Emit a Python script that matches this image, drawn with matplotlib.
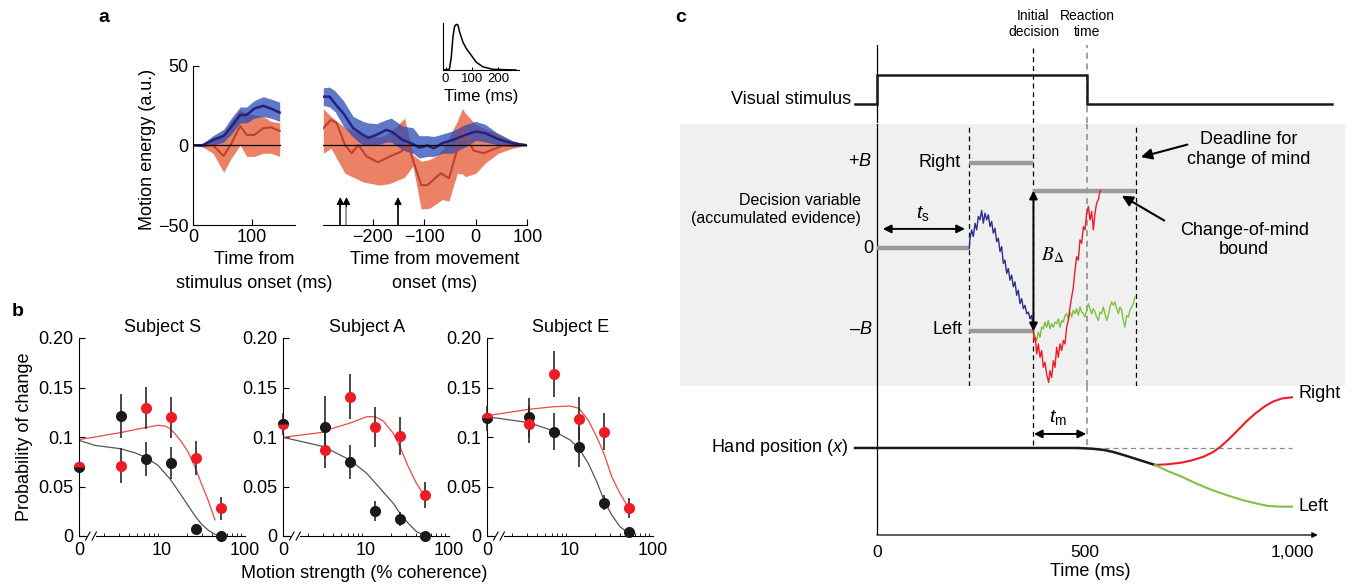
import matplotlib
matplotlib.use('Agg')
import matplotlib.pyplot as plt

plt.rcParams['font.family'] = ['Liberation Sans', 'DejaVu Sans']
plt.rcParams['mathtext.fontset'] = 'custom'
plt.rcParams['mathtext.rm'] = 'Liberation Sans'
plt.rcParams['mathtext.it'] = 'Liberation Sans:italic'
plt.rcParams['mathtext.default'] = 'it'

# ---------------- Panel a data ----------------
t_left = [0, 16, 34, 52, 65, 80, 91, 104, 119, 132, 147]
blue_left = [0, 0, 3.3, 5.9, 11.7, 19, 19, 23, 24.7, 23, 20.5]
blue_left_hi = [0, 1, 6, 10, 17, 24, 24, 28, 30.5, 29, 27]
blue_left_lo = [0, -1, 0, 2, 7, 14, 14, 17, 18, 17, 15]
red_left = [0, 0, 0, -6.7, 1.2, 12, 6.5, 6.5, 10.7, 11.3, 9]
red_left_hi = [0, 0, 5, 7, 15, 22, 20, 19, 18, 15, 14]
red_left_lo = [0, -1, -5, -17, -8, 0, -7, -7, -5, -5, -7]

t_blue_right = [-296, -284, -273, -257, -238, -219, -209, -193, -174, -164, -142, -122,
                -110, -94, -81, -65, -45, -20, 0, 19, 44, 70, 100]
blue_right = [30.5, 30.5, 26, 20, 10.7, 6.5, 4.6, 6.5, 9.6, 8.6, 3.3, 0.8,
              -1.5, -0.2, -1.9, 1.3, 3.3, 6.5, 8.6, 7.5, 3.8, 1.3, 0]
blue_right_hi = [36, 36.5, 34, 28, 18, 15, 14, 13.5, 16, 17, 12, 11,
                 6, 6, 5.5, 7, 9, 13, 15, 13, 7, 3, 0]
blue_right_lo = [25, 24, 21, 12, 5, 0, 0, 0, 2, 2, -3, -5,
                 -8, -7, -7, -5, -5, -1, 3, 2, 0, -1, 0]

t_red_right = [-296, -281, -270, -254, -241, -228, -212, -190, -167, -145, -132, -106,
               -94, -68, -52, -26, -4, 15, 54, 100]
red_right = [10.7, 16, 14, 0.2, -5, 0.2, -7, -10.7, -7, -4, 0.8, -25,
             -25, -17.6, -20.7, 8.6, -3.3, -5, 0, 0]
t_red_band = [-296, -281, -254, -219, -187, -167, -138, -122, -106, -90, -78, -65,
              -52, -36, -26, -20, 0, 19, 44, 70, 100]
red_right_hi = [23, 18, 11, 7, 5, 8, 17, -6, -10, -9, -7, -3,
                5, 15, 23, 20, 13, 10, 7.5, 3, 0]
red_right_lo = [-5, -2, -17.6, -23, -25, -24, -20, -13, -40, -39.5, -37, -34,
                -35, -17.6, -18, -19.7, -17.6, -11, -5, -2, 0]
arrow_times = [-263, -251, -151]

inset_t = [-10, 10, 15, 21.5, 28, 34, 40.6, 46.8, 53, 66, 79, 98, 117, 142, 180, 268]
inset_v = [0, 0.01, 0.03, 0.28, 0.73, 0.95, 1.0, 0.99, 0.84, 0.61, 0.47, 0.32, 0.17, 0.07, 0.015, 0]

# ---------------- Panel b data ----------------
coherence = [0, 3.2, 6.4, 12.8, 25.6, 51.2]
subjects = ['Subject S', 'Subject A', 'Subject E']
black_vals = [[0.0695, 0.121, 0.078, 0.0736, 0.0075, 0.0],
              [0.113, 0.110, 0.0747, 0.0256, 0.0168, 0.0],
              [0.1189, 0.120, 0.1054, 0.090, 0.0337, 0.0037]]
black_err = [[0, 0.022, 0.017, 0.016, 0.005, 0],
             [0.011, 0.0315, 0.0175, 0.010, 0.007, 0],
             [0.0125, 0.0197, 0.019, 0.020, 0.0075, 0]]
red_vals = [[0.0695, 0.0712, 0.1295, 0.1197, 0.0786, 0.0278],
            [0.113, 0.087, 0.1407, 0.110, 0.101, 0.0417],
            [0.119, 0.1128, 0.1636, 0.1185, 0.1054, 0.028]]
red_err = [[0, 0.0175, 0.021, 0.0205, 0.017, 0.0114],
           [0, 0.018, 0.023, 0.0205, 0.0195, 0.013],
           [0, 0.0185, 0.023, 0.022, 0.019, 0.010]]
zero_top = ['red', 'black', 'red']

fit_red_coh = [[0, 1.56, 2.25, 3.18, 4.73, 6.35, 9.0, 10.9, 12.5, 14.3, 17.2, 20.7, 25, 30, 36.1, 43.5],
               [0, 3.2, 3.7, 6.4, 10.2, 12.8, 16, 21.3, 25.7, 32.3, 40.7, 51.2],
               [0, 3.2, 6.4, 10, 12.8, 16.6, 21, 25.6, 31.8, 40, 51.2]]
fit_red = [[0.0973, 0.100, 0.1024, 0.1044, 0.1075, 0.1095, 0.1119, 0.111, 0.1085, 0.1034, 0.095, 0.0847,
            0.0695, 0.0525, 0.0356, 0.0163],
           [0.0997, 0.105, 0.108, 0.114, 0.1205, 0.1205, 0.1165, 0.1037, 0.090, 0.070, 0.053, 0.0397],
           [0.1215, 0.128, 0.1306, 0.1313, 0.129, 0.117, 0.100, 0.0835, 0.060, 0.043, 0.028]]
fit_black_coh = [[0, 1.56, 2.25, 3.18, 4.73, 6.35, 9.0, 12.5, 17.2, 20.7, 25, 30, 36.1, 43.5, 50],
                 [0, 3.2, 3.7, 6.4, 10.2, 16, 21.3, 25.7, 32.3, 40.7, 51.2],
                 [0, 3.2, 6.4, 10, 12.8, 16.6, 21, 25.6, 31.8, 40, 51.2]]
fit_black = [[0.0966, 0.0915, 0.0898, 0.0881, 0.084, 0.0797, 0.0712, 0.0576, 0.0407, 0.0305, 0.0203,
              0.0119, 0.0058, 0.0017, 0.0],
             [0.0997, 0.090, 0.0869, 0.0768, 0.0633, 0.0448, 0.033, 0.0229, 0.0128, 0.0043, 0.0007],
             [0.1205, 0.1145, 0.106, 0.097, 0.0886, 0.0734, 0.0549, 0.0364, 0.0212, 0.0094, 0.0027]]

# ---------------- Panel c data ----------------
t_s = 222
t_init = 377
t_rt = 506
t_deadline = 624
B_delta_level = 0.695
stim_t = [-53, 0, 0, 506, 506, 1096]
stim_v = [0, 0, 1, 1, 0, 0]

blue_t = [222.5, 224.1, 228.1, 232.1, 236.2, 240.2, 244.2, 248.2, 252.2, 256.2, 260.2, 264.3, 268.3,
          272.3, 276.3, 280.3, 284.3, 288.4, 292.4, 296.4, 300.4, 304.4, 308.4, 312.5, 316.5, 320.5,
          324.5, 328.5, 332.5, 336.6, 340.6, 344.6, 348.6, 352.6, 356.6, 360.7, 364.7, 368.7, 372.7, 377]
blue_dv = [0.0, 0.121, 0.222, 0.141, 0.303, 0.222, 0.384, 0.343, 0.456, 0.303, 0.424, 0.343, 0.404,
           0.262, 0.323, 0.182, 0.242, 0.081, 0.121, -0.040, 0.020, -0.182, -0.142, -0.303, -0.243, -0.384,
           -0.323, -0.465, -0.404, -0.566, -0.505, -0.667, -0.606, -0.727, -0.687, -0.788, -0.768, -0.849,
           -0.808, -1.0]
red_t = [377, 378.3, 381.5, 384.7, 388.8, 392.8, 396.8, 400.8, 404.8, 408.8, 413.6, 416.9, 420.9, 424.9,
         428.9, 432.9, 436.9, 441.0, 445.0, 449.0, 453.0, 457.0, 461.0, 465.1, 469.1, 473.1, 477.1, 481.1,
         485.1, 489.2, 493.2, 497.2, 501.2, 505.2, 509.2, 513.3, 517.3, 521.3, 525.3, 529.3, 533.3, 537.3, 539.0]
red_dv = [-1.0, -1.111, -1.071, -1.273, -1.152, -1.313, -1.232, -1.434, -1.374, -1.515, -1.616, -1.475,
          -1.556, -1.354, -1.434, -1.192, -1.313, -1.152, -1.232, -1.111, -1.152, -0.950, -0.869, -0.707,
          -0.586, -0.465, -0.263, -0.101, -0.142, 0.101, 0.061, 0.262, 0.222, 0.424, 0.505, 0.343, 0.444,
          0.222, 0.424, 0.545, 0.586, 0.687, 0.695]
green_t = [377, 380.7, 384.7, 388.8, 392.8, 396.8, 400.8, 404.8, 408.8, 412.8, 416.9, 420.9, 424.9, 428.9,
           432.9, 436.9, 441.0, 445.0, 449.0, 453.0, 457.0, 461.0, 465.1, 469.1, 473.1, 477.1, 481.1, 485.1,
           489.2, 493.2, 497.2, 501.2, 505.2, 509.2, 513.3, 517.3, 521.3, 525.3, 529.3, 533.3, 537.3, 541.3,
           545.4, 549.4, 553.4, 557.4, 561.4, 565.4, 569.5, 573.5, 577.5, 581.5, 585.5, 589.5, 593.6, 597.6,
           601.6, 605.6, 609.6, 613.6, 617.7, 621.7]
green_dv = [-1.0, -1.071, -1.111, -1.010, -1.071, -0.949, -0.970, -0.889, -0.950, -0.869, -0.970, -0.909,
            -0.950, -0.889, -0.909, -0.849, -0.950, -0.869, -0.889, -0.808, -0.788, -0.849, -0.768, -0.828,
            -0.747, -0.788, -0.727, -0.808, -0.707, -0.768, -0.788, -0.828, -0.747, -0.667, -0.727, -0.788,
            -0.727, -0.768, -0.828, -0.869, -0.768, -0.788, -0.707, -0.788, -0.869, -0.808, -0.707, -0.646,
            -0.687, -0.646, -0.727, -0.788, -0.707, -0.747, -0.869, -0.950, -0.808, -0.828, -0.747, -0.707,
            -0.667, -0.586]

hand_t = [-53, 484, 520, 547, 570, 599, 630, 670]
hand_x = [0, 0, -0.015, -0.039, -0.08, -0.15, -0.23, -0.333]
hand_right_t = [670, 700, 734, 760, 787, 810, 828, 850, 870, 890, 912, 935, 954, 975, 1000]
hand_right_x = [-0.333, -0.32, -0.287, -0.24, -0.17, -0.08, 0.026, 0.19, 0.353, 0.52, 0.68, 0.82, 0.908, 0.97, 0.993]
hand_left_t = [670, 700, 734, 770, 807, 845, 880, 910, 943, 970, 1000]
hand_left_x = [-0.333, -0.45, -0.562, -0.70, -0.824, -0.93, -1.02, -1.08, -1.137, -1.15, -1.15]
time_ticks = [0, 500, 1000]
time_labels = ['0', '500', '1,000']

# ---------------- Figure ----------------
W, H = 1355, 585
fig = plt.figure(figsize=(W / 100, H / 100), dpi=100)


def rect(x0, y0, x1, y1):
    return [x0 / W, 1 - y1 / H, (x1 - x0) / W, (y1 - y0) / H]


def ftext(px, py, s, **kw):
    kw.setdefault('ha', 'center')
    kw.setdefault('va', 'center')
    fig.text(px / W, 1 - py / H, s, **kw)


FS = 13
RED_BAND = '#eb8266'
RED_LINE = '#bc4230'
BLUE_BAND = (0.165, 0.294, 0.713)
BLUE_ALPHA = 0.75
BLUE_LINE = '#23237f'

# ---- panel a left
axL = fig.add_axes(rect(193, 65.5, 295, 225))
axL.fill_between(t_left, red_left_lo, red_left_hi, color=RED_BAND, lw=0)
axL.plot(t_left, red_left, color=RED_LINE, lw=1.5)
axL.fill_between(t_left, blue_left_lo, blue_left_hi, color=BLUE_BAND, alpha=BLUE_ALPHA, lw=0)
axL.plot(t_left, blue_left, color=BLUE_LINE, lw=1.8)
axL.plot([0, 147], [0, 0], color='k', lw=0.9)
axL.set_xlim(0, 173)
axL.set_ylim(-50, 50)
for s in ['top', 'right']:
    axL.spines[s].set_visible(False)
axL.set_xticks([0, 100])
axL.set_yticks([-50, 0, 50])
axL.tick_params(direction='in', length=4, labelsize=FS, pad=3)

# ---- panel a right
axR = fig.add_axes(rect(323.3, 65.5, 527.3, 225))
axR.fill_between(t_red_band, red_right_lo, red_right_hi, color=RED_BAND, lw=0)
axR.plot(t_red_right, red_right, color=RED_LINE, lw=1.5)
axR.fill_between(t_blue_right, blue_right_lo, blue_right_hi, color=BLUE_BAND, alpha=BLUE_ALPHA, lw=0)
axR.plot(t_blue_right, blue_right, color=BLUE_LINE, lw=1.8)
axR.plot([-296, 100], [0, 0], color='k', lw=0.9)
axR.set_xlim(-296, 100)
axR.set_ylim(-50, 50)
for s in ['top', 'right', 'left']:
    axR.spines[s].set_visible(False)
axR.set_yticks([])
axR.set_xticks([-200, -100, 0, 100])
axR.tick_params(direction='in', length=4, labelsize=FS, pad=3)
for i, t in enumerate(arrow_times):
    shaft = '#888888' if i == 1 else 'k'
    axR.plot([t, t], [-50, -37], color=shaft, lw=1.2, clip_on=False)
    axR.annotate('', xy=(t, -32.5), xytext=(t, -38.5),
                 arrowprops=dict(arrowstyle='-|>', color='k', lw=0.8, mutation_scale=11,
                                 shrinkA=0, shrinkB=0))

ftext(148, 149, 'Motion energy (a.u.)', rotation=90, size=FS)
ftext(254, 260, 'Time from', size=FS)
ftext(254, 283, 'stimulus onset (ms)', size=FS)
ftext(435, 260, 'Time from movement', size=FS)
ftext(435, 283, 'onset (ms)', size=FS)
ftext(104, 18, 'a', size=14, weight='bold')

# ---- inset
axI = fig.add_axes(rect(443, 23, 519, 70))
axI.plot(inset_t, inset_v, color='k', lw=1.1)
axI.set_xlim(-10, 280)
axI.set_ylim(0, 1.03)
for s in ['top', 'right']:
    axI.spines[s].set_visible(False)
axI.set_yticks([])
axI.set_xticks([0, 100, 200])
axI.tick_params(direction='in', length=2, labelsize=9.5, pad=2)
ftext(481, 97, 'Time (ms)', size=12)

# ---- panel b
b_lefts = [79, 283, 487]
for k in range(3):
    x0 = b_lefts[k]
    ax = fig.add_axes(rect(x0, 338, x0 + 166, 536))
    ax.set_xscale('log')
    ax.set_xlim(1, 100)
    ax.set_ylim(0, 0.2)
    pos = [1 if c == 0 else c for c in coherence]
    fr = [1 if c == 0 else c for c in fit_red_coh[k]]
    fb = [1 if c == 0 else c for c in fit_black_coh[k]]
    ax.plot(fb, fit_black[k], color='#555555', lw=0.9, zorder=2)
    ax.plot(fr, fit_red[k], color='#f04848', lw=0.9, zorder=2)
    ax.errorbar(pos[1:], black_vals[k][1:], yerr=black_err[k][1:], fmt='none', ecolor='#2a2a2a',
                elinewidth=1.2, zorder=3)
    ax.errorbar(pos[1:], red_vals[k][1:], yerr=red_err[k][1:], fmt='none', ecolor='#2a2a2a',
                elinewidth=1.2, zorder=3)
    if black_err[k][0] > 0:
        ax.errorbar([1], [black_vals[k][0]], yerr=[black_err[k][0]], fmt='none', ecolor='#2a2a2a',
                    elinewidth=1.2, zorder=3, clip_on=False)
    ax.plot(pos[1:], black_vals[k][1:], 'o', color='#1a1a1a', ms=8, mec='none', zorder=4, clip_on=False)
    ax.plot(pos[1:], red_vals[k][1:], 'o', color='#ee1c25', ms=8, mec='none', zorder=4, clip_on=False)
    if zero_top[k] == 'red':
        ax.plot([1], [black_vals[k][0]], 'o', color='#1a1a1a', ms=8, mec='none', zorder=5, clip_on=False)
        ax.plot([1], [red_vals[k][0]], 'o', color='#ee1c25', fillstyle='top', ms=8, mec='none',
                zorder=6, clip_on=False)
    else:
        ax.plot([1], [red_vals[k][0]], 'o', color='#ee1c25', ms=8, mec='none', zorder=5, clip_on=False)
        ax.plot([1], [black_vals[k][0]], 'o', color='#1a1a1a', fillstyle='top', ms=8, mec='none',
                zorder=6, clip_on=False)
    for s in ['top', 'right', 'bottom']:
        ax.spines[s].set_visible(False)
    ax.spines['left'].set_linewidth(0.8)
    ax.plot([1, 1.2], [0, 0], color='k', lw=0.8, clip_on=False, zorder=1)
    ax.plot([1.62, 100], [0, 0], color='k', lw=0.8, clip_on=False, zorder=1)
    ax.plot([1.2, 1.36], [-0.004, 0.004], color='k', lw=0.8, clip_on=False)
    ax.plot([1.44, 1.62], [-0.004, 0.004], color='k', lw=0.8, clip_on=False)
    ax.set_xticks([1, 10, 100])
    ax.set_xticklabels(['0', '10', '100'])
    ax.set_xticks([2, 3, 4, 5, 6, 7, 8, 9, 20, 30, 40, 50, 60, 70, 80, 90], minor=True)
    ax.set_xticklabels([], minor=True)
    ax.set_yticks([0, 0.05, 0.1, 0.15, 0.2])
    ax.set_yticklabels(['0', '0.05', '0.1', '0.15', '0.20'])
    ax.tick_params(which='major', direction='in', length=4, labelsize=FS, pad=4, width=0.8)
    ax.tick_params(which='minor', direction='in', length=2.5, width=0.6)
    ax.tick_params(axis='x', which='major', length=0)
    ax.patch.set_alpha(0)
    ftext(x0 + 84, 327, subjects[k], size=FS)

ftext(25, 437, 'Probability of change', rotation=90, size=FS)
ftext(364, 573, 'Motion strength (% coherence)', size=FS)
ftext(18, 312, 'b', size=14, weight='bold')

# ---- panel c
xl = ((680 - 877) / 0.415, (1345 - 877) / 0.415)
DASH = (0, (4, 3))

axS = fig.add_axes(rect(680, 45, 1345, 123))
axS.set_xlim(xl)
axS.set_ylim(-0.655, 2.034)
axS.axis('off')
axS.axvline(0, color='k', lw=0.9)
axS.axvline(t_init, color='k', lw=0.9, ls=DASH)
axS.axvline(t_rt, color='#888888', lw=1.1, ls=DASH)
axS.plot(stim_t, stim_v, color='#1a1a1a', lw=1.8, solid_joinstyle='miter')
axS.text(-63, 0.14, 'Visual stimulus', ha='right', va='center', size=FS)
axS.text(t_init, 2.76, 'Initial\ndecision', ha='center', va='center', size=10, linespacing=1.25)
axS.text(t_rt, 2.76, 'Reaction\ntime', ha='center', va='center', size=10, linespacing=1.25)

axD = fig.add_axes(rect(680, 124, 1345, 385.5))
axD.set_xlim(xl)
axD.set_ylim(-1.653, 1.498)
axD.set_facecolor('#f0f0f0')
for s in axD.spines.values():
    s.set_visible(False)
axD.set_xticks([])
axD.set_yticks([])
axD.axvline(0, color='k', lw=0.9)
for tv in [t_s, t_init, t_deadline]:
    axD.axvline(tv, color='k', lw=0.9, ls=DASH)
axD.axvline(t_rt, color='#888888', lw=1.1, ls=DASH)
GB = '#9a9a9a'
axD.plot([0, t_s], [0, 0], color=GB, lw=3.2, solid_capstyle='butt')
axD.plot([t_s, t_init], [1.03, 1.03], color=GB, lw=3.2, solid_capstyle='butt')
axD.plot([t_s, t_init], [-1.0, -1.0], color=GB, lw=3.2, solid_capstyle='butt')
axD.plot([t_init, t_deadline], [B_delta_level, B_delta_level], color=GB, lw=3.2, solid_capstyle='butt')
axD.plot(blue_t, blue_dv, color='#2b2f91', lw=1.0)
axD.plot(green_t, green_dv, color='#7dc242', lw=1.0)
axD.plot(red_t, red_dv, color='#ee1c25', lw=1.0)
axD.annotate('', xy=(t_init, B_delta_level), xytext=(t_init, -1.0),
             arrowprops=dict(arrowstyle='<|-|>', color='k', lw=1.4, mutation_scale=12, shrinkA=0, shrinkB=0))
axD.annotate('', xy=(212, 0.234), xytext=(14, 0.234),
             arrowprops=dict(arrowstyle='<|-|>', color='k', lw=1.4, mutation_scale=12, shrinkA=0, shrinkB=0))
axD.text(111, 0.42, r'$t_{\mathrm{s}}$', ha='center', va='center', size=FS + 1)
axD.text(423, -0.08, r'$B_{\Delta}$', ha='center', va='center', size=FS + 1, math_fontfamily='stix')
axD.text(-12, 1.05, r'+$B$', ha='right', va='center', size=FS)
axD.text(-8, 0, '0', ha='right', va='center', size=FS)
axD.text(-12, -0.98, r'–$B$', ha='right', va='center', size=FS)
axD.text(203, 1.03, 'Right', ha='right', va='center', size=FS)
axD.text(205, -0.98, 'Left', ha='right', va='center', size=FS)
axD.text(-39, 0.47, 'Decision variable\n(accumulated evidence)', ha='right', va='center', size=11.5,
         linespacing=1.2)
axD.text(895, 1.19, 'Deadline for\nchange of mind', ha='center', va='center', size=FS, linespacing=1.25)
axD.text(885, 0.10, 'Change-of-mind\nbound', ha='center', va='center', size=FS, linespacing=1.2)
axD.annotate('', xy=(636, 1.10), xytext=(748, 1.25),
             arrowprops=dict(arrowstyle='-|>', color='k', lw=1.5, mutation_scale=16, shrinkA=0, shrinkB=0))
axD.annotate('', xy=(590, 0.634), xytext=(692, 0.335),
             arrowprops=dict(arrowstyle='-|>', color='k', lw=1.5, mutation_scale=16, shrinkA=0, shrinkB=0))

axH = fig.add_axes(rect(680, 385.5, 1345, 535))
axH.set_xlim(xl)
axH.set_ylim(-1.706, 1.225)
axH.patch.set_alpha(0)
for s in axH.spines.values():
    s.set_visible(False)
axH.set_yticks([])
axH.set_xticks(time_ticks)
axH.set_xticklabels(time_labels)
axH.tick_params(axis='x', length=0, labelsize=12.5, pad=7)
axH.axvline(0, color='k', lw=0.9)
frac = (535 - 445) / (535 - 385.5)
axH.axvline(t_init, ymin=frac, ymax=1, color='k', lw=0.9, ls=DASH)
axH.axvline(t_rt, ymin=frac, ymax=1, color='#888888', lw=1.1, ls=DASH)
axH.annotate('', xy=(1062, -1.706), xytext=(0, -1.706),
             arrowprops=dict(arrowstyle='-|>', color='k', lw=0.9, mutation_scale=8, shrinkA=0, shrinkB=0),
             annotation_clip=False)
axH.plot([484, 1000], [0, 0], color='#888888', lw=0.9, ls=DASH)
axH.plot(hand_t, hand_x, color='#1a1a1a', lw=1.8)
axH.plot(hand_right_t, hand_right_x, color='#ee1c25', lw=1.5)
axH.plot(hand_left_t, hand_left_x, color='#7dc242', lw=1.5)
axH.annotate('', xy=(504, 0.275), xytext=(378, 0.275),
             arrowprops=dict(arrowstyle='<|-|>', color='k', lw=1.4, mutation_scale=12, shrinkA=0, shrinkB=0))
axH.text(437, 0.59, r'$t_{\mathrm{m}}$', ha='center', va='center', size=FS + 1)
axH.text(-71, 0, r'Hand position ($x$)', ha='right', va='center', size=FS)
axH.text(1015, 1.06, 'Right', ha='left', va='center', size=FS)
axH.text(1015, -1.14, 'Left', ha='left', va='center', size=FS)
ftext(1090, 572, 'Time (ms)', size=FS)
ftext(681, 18, 'c', size=14, weight='bold')

fig.savefig('out.png', dpi=100)
